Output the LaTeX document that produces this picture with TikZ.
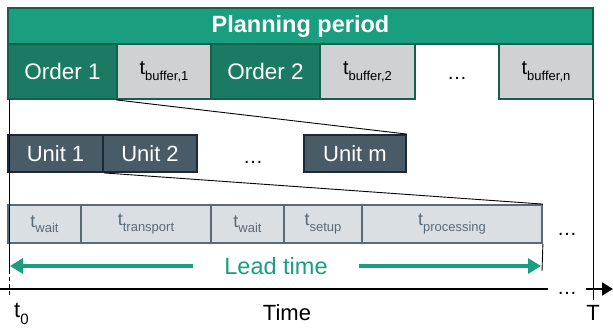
\documentclass[tikz,border=0pt]{standalone}
\usepackage{fontspec}
\setmainfont{Liberation Sans}
\usetikzlibrary{arrows.meta}
\definecolor{plangreen}{HTML}{1A9E80}
\definecolor{ordergreen}{HTML}{1B7A62}
\definecolor{borderdark}{HTML}{155F4C}
\definecolor{bufgray}{HTML}{CFD1D2}
\definecolor{unitfill}{HTML}{4A5B68}
\definecolor{unitborder}{HTML}{1E2A33}
\definecolor{cellfill}{HTML}{D9DFE2}
\definecolor{cellborder}{HTML}{5A6B77}
\newcommand{\fs}[1]{\fontsize{#1}{#1}\selectfont}
\newcommand{\tsub}[3]{{\fs{#1}t\raisebox{-0.3em}{\fs{#2}#3}}}
\begin{document}
\begin{tikzpicture}[x=1pt,y=-1pt,
  box/.style={rectangle,inner sep=0pt,minimum height=#1,line width=1.8pt},
  planbox/.style={box=36pt,fill=plangreen,draw=borderdark,text=white,font=\fs{23.5}\bfseries},
  orderbox/.style={box=55pt,fill=ordergreen,draw=borderdark,text=white,font=\fs{22.5}},
  bufbox/.style={box=55pt,fill=bufgray,draw=borderdark,text=black},
  unitbox/.style={box=37pt,fill=unitfill,draw=unitborder,text=white,font=\fs{22}},
  cellbox/.style={box=38pt,fill=cellfill,draw=cellborder,text=cellborder},
  dotsnode/.style={inner sep=0pt,font=\fs{20}},
  thinline/.style={line width=0.9pt,black},
  leadarrow/.style={line width=3.5pt,plangreen,-{Triangle[length=13pt,width=15pt]}},
  lbl/.style={inner sep=0pt,font=\fs{22}}
]
\useasboundingbox (0,0) rectangle (613,332);

% Planning period
\node[planbox,minimum width=585pt] (plan) at (300.5,26) {Planning period};

% Order row
\node[orderbox,minimum width=109pt] (order1) at (62.5,71.5) {Order 1};
\node[bufbox,minimum width=94pt] (buf1) at (164,71.5) {\tsub{20}{13}{buffer,1}};
\node[orderbox,minimum width=109pt] (order2) at (265.5,71.5) {Order 2};
\node[bufbox,minimum width=95pt] (buf2) at (367.5,71.5) {\tsub{20}{13}{buffer,2}};
\node[dotsnode] (odots) at (457,78) {\dots};
\node[bufbox,minimum width=94pt] (bufn) at (546,71.5) {\tsub{20}{13}{buffer,n}};

% Units row
\node[unitbox,minimum width=95pt] (unit1) at (55.5,153.5) {Unit 1};
\node[unitbox,minimum width=94pt] (unit2) at (150,153.5) {Unit 2};
\node[dotsnode] (udots) at (253,162) {\dots};
\node[unitbox,minimum width=102pt] (unitm) at (355,153.5) {Unit m};

% Bottom cells
\node[cellbox,minimum width=73pt] (wait1) at (44.5,224) {\tsub{18}{13}{wait}};
\node[cellbox,minimum width=130pt] (transport) at (146,224) {\tsub{18}{13}{transport}};
\node[cellbox,minimum width=73pt] (wait2) at (247.5,224) {\tsub{18}{13}{wait}};
\node[cellbox,minimum width=78pt] (setup) at (323,224) {\tsub{18}{13}{setup}};
\node[cellbox,minimum width=180pt] (processing) at (452,224) {\tsub{18}{13}{processing}};
\node[dotsnode] (cdots) at (567,234) {\dots};

% zoom lines
\draw[thinline] (buf1.south west) -- (unitm.north east);
\draw[thinline] (unit1.south east) -- (processing.north east);

% vertical lines
\coordinate (t0top) at (9,99);
\coordinate (t0mid) at (9,270);
\coordinate (t0bot) at (9,298);
\coordinate (Ttop) at (593,99);
\coordinate (Tbot) at (593,300);
\draw[thinline] (t0top) -- (t0mid);
\draw[thinline,dash pattern=on 4pt off 3pt] (t0mid) -- (t0bot);
\draw[thinline] (Ttop) -- (Tbot);
\coordinate (ltend) at (542,271);
\draw[thinline] (processing.south east) -- (ltend);

% Lead time
\node[inner sep=0pt,font=\fs{23.5},text=plangreen] (lead) at (276,266) {Lead time};
\coordinate (la1) at (193,266);
\coordinate (la2) at (10,266);
\coordinate (ra1) at (359,266);
\coordinate (ra2) at (541,266);
\draw[leadarrow] (la1) -- (la2);
\draw[leadarrow] (ra1) -- (ra2);

% Time axis
\coordinate (ax0) at (0,289);
\coordinate (ax1) at (548,289);
\coordinate (ax2) at (586,289);
\coordinate (ax3) at (613,289);
\draw[line width=1.8pt] (ax0) -- (ax1);
\node[dotsnode] (adots) at (567,293) {\dots};
\draw[line width=1.8pt,-{Triangle[length=11pt,width=13pt]}] (ax2) -- (ax3);

% labels
\node[lbl,anchor=west] (t0) at (14,314) {t\raisebox{-0.3em}{\fs{15}0}};
\node[lbl] (time) at (287,313) {Time};
\node[lbl] (T) at (593,313) {T};
\end{tikzpicture}
\end{document}
